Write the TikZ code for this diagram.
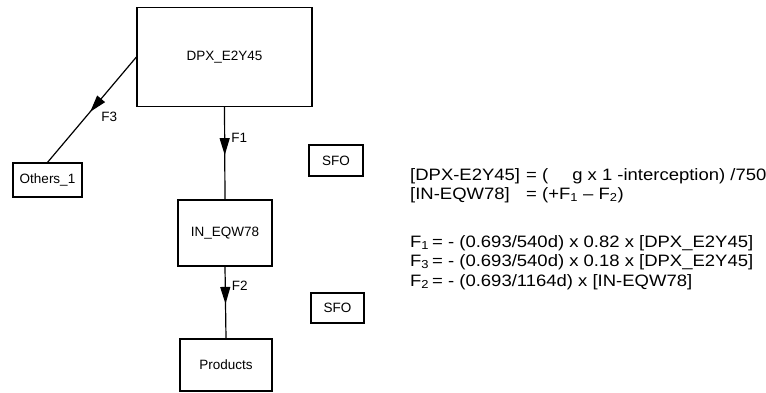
\documentclass[tikz,border=0pt]{standalone}
\usepackage{fontspec}
\setmainfont{Liberation Sans}
\newfontfamily\eqfont[FakeStretch=1.12]{Liberation Sans}
\usetikzlibrary{arrows.meta,decorations.markings}

\tikzset{
  pool/.style={draw,line width=1.2pt,inner sep=0pt,
    font=\fontsize{13.5}{16}\selectfont},
  flow/.style={line width=1.2pt,postaction={decorate},
    decoration={markings,mark=at position 0.52 with
      {\arrow{Triangle[length=17pt,width=10pt]}}}},
  flowlabel/.style={font=\fontsize{13.5}{16}\selectfont,inner sep=1pt},
  eqn/.style={anchor=base west,inner sep=0pt,
    font=\eqfont\fontsize{16.5}{19}\selectfont},
}
\newcommand{\lhs}[1]{\makebox[116pt][l]{#1}}
\newcommand{\lhsF}[1]{\makebox[22pt][l]{#1}}

\begin{document}
\begin{tikzpicture}[x=1pt,y=-1pt]
  \useasboundingbox (0,0) rectangle (766,392);
  % compartments
  \node[pool,minimum width=175pt,minimum height=99pt] (dpx) at (224.5,57) {DPX\_E2Y45};
  \node[pool,minimum width=69pt,minimum height=34pt] (others) at (47.5,180) {Others\_1};
  \node[pool,minimum width=94pt,minimum height=66pt] (in) at (225,233) {IN\_EQW78};
  \node[pool,minimum width=92pt,minimum height=52pt] (prod) at (226,365) {Products};
  \node[pool,minimum width=54pt,minimum height=31pt] (sfoA) at (336,160.5) {SFO};
  \node[pool,minimum width=53pt,minimum height=30pt] (sfoB) at (337.5,308) {SFO};
  % fluxes
  \draw[flow] (dpx.west) -- (others.north) node[flowlabel,pos=.57,right=14pt] {F3};
  \draw[flow] (dpx.south) -- (in.north) node[flowlabel,pos=.33,right=5pt] {F1};
  \draw[flow] (in.south) -- (prod.north) node[flowlabel,pos=.27,right=5pt] {F2};
  % equations
  \node[eqn] (eqdpx) at (410,180) {\lhs{[DPX-E2Y45]}= (\hspace{24pt}g x 1 -interception) /750};
  \node[eqn] (eqin) at (410,199) {\lhs{[IN-EQW78]}= (+F\textsubscript{1} \textendash{} F\textsubscript{2})};
  \node[eqn] (eqfone) at (410,247) {\lhsF{F\textsubscript{1}}= - (0.693/540d) x 0.82 x [DPX\_E2Y45]};
  \node[eqn] (eqfthree) at (410,266) {\lhsF{F\textsubscript{3}}= - (0.693/540d) x 0.18 x [DPX\_E2Y45]};
  \node[eqn] (eqftwo) at (410,286) {\lhsF{F\textsubscript{2}}= - (0.693/1164d) x [IN-EQW78]};
\end{tikzpicture}
\end{document}
